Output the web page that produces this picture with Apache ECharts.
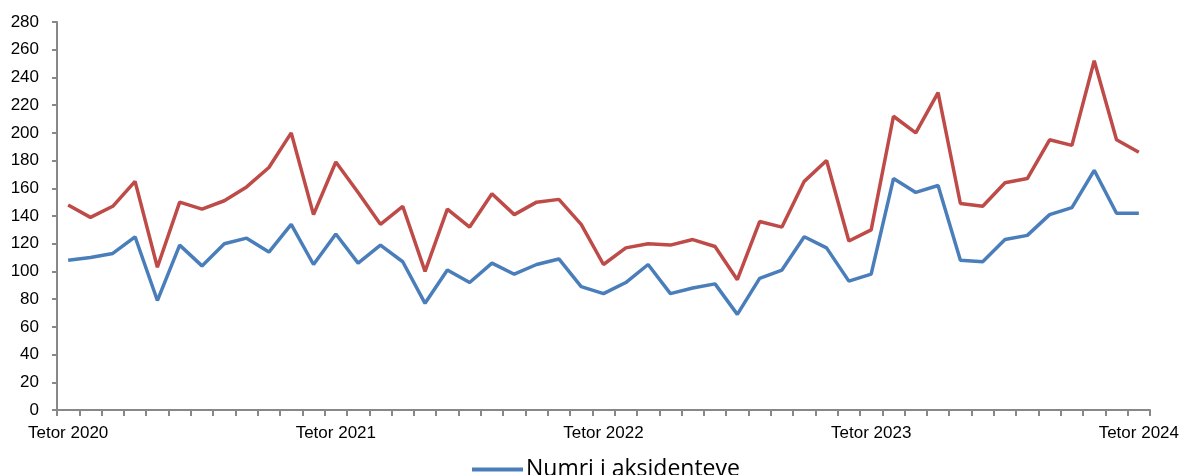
<!DOCTYPE html>
<html>
<head>
<meta charset="utf-8">
<script src="https://cdn.jsdelivr.net/npm/echarts@6/dist/echarts.min.js"></script>
<style>
  html, body { margin: 0; padding: 0; background: #fff; }
  #chart { width: 1182px; height: 475px; }
</style>
</head>
<body>
<div id="chart"></div>
<script>
// monthly data Tetor 2020 .. Tetor 2024
const months = ["Tetor", "Nëntor", "Dhjetor", "Janar", "Shkurt", "Mars", "Prill", "Maj", "Qershor", "Korrik", "Gusht", "Shtator"];
const categories = [];
for (let i = 0; i < 49; i++) {
  const m = months[i % 12];
  const y = 2020 + Math.floor((i + 9) / 12);
  categories.push(m + " " + y);
}

const accidents = [108, 110, 113, 125, 79, 119, 104, 120, 124, 114, 134, 105,
  127, 106, 119, 107, 77, 101, 92, 106, 98, 105, 109, 89,
  84, 92, 105, 84, 88, 91, 69, 95, 101, 125, 117, 93,
  98, 167, 157, 162, 108, 107, 123, 126, 141, 146, 173, 142,
  142];

const injured = [148, 139, 147, 165, 103, 150, 145, 151, 161, 175, 200, 141,
  179, 157, 134, 147, 100, 145, 132, 156, 141, 150, 152, 134,
  105, 117, 120, 119, 123, 118, 94, 136, 132, 165, 180, 122,
  130, 212, 200, 229, 149, 147, 164, 167, 195, 191, 252, 195,
  186];

const yTicks = [0, 20, 40, 60, 80, 100, 120, 140, 160, 180, 200, 220, 240, 260, 280];

const chart = echarts.init(document.getElementById("chart"));
const axisGray = "#888888";
chart.setOption({
  animation: false,
  grid: { left: 57, right: 32, top: 22, bottom: 65 },
  legend: {
    data: [{ name: "Numri i aksidenteve", icon: "rect" }],
    left: 467, top: 453,
    itemWidth: 51, itemHeight: 4, itemGap: 10,
    textStyle: { fontFamily: "Open Sans", fontSize: 23, color: "#000", padding: [0, 0, 0, -2] }
  },
  xAxis: {
    type: "category",
    data: categories,
    boundaryGap: true,
    axisLine: { lineStyle: { color: axisGray, width: 2 } },
    axisTick: { show: true, interval: 0, length: 6, lineStyle: { color: axisGray, width: 2 } },
    axisLabel: {
      interval: 11, margin: 15,
      fontFamily: "Liberation Sans", fontSize: 17, color: "#000",
      formatter: v => v.startsWith("Tetor") ? v : ""
    }
  },
  yAxis: {
    type: "value",
    min: yTicks[0], max: yTicks[yTicks.length - 1], interval: 20,
    splitLine: { show: false },
    axisLine: { show: true, lineStyle: { color: axisGray, width: 2 } },
    axisTick: { show: true, length: 5, lineStyle: { color: axisGray, width: 2 } },
    axisLabel: { margin: 18, fontFamily: "Liberation Sans", fontSize: 17, color: "#000" }
  },
  series: [
    {
      name: "Numri i aksidenteve",
      type: "line",
      data: accidents,
      symbol: "none",
      itemStyle: { color: "#4a7ebb" },
      lineStyle: { color: "#4a7ebb", width: 3.5 },
      z: 3
    },
    {
      name: "Numri i të lënduarve",
      type: "line",
      data: injured,
      symbol: "none",
      itemStyle: { color: "#be4b48" },
      lineStyle: { color: "#be4b48", width: 3.5 },
      z: 2
    }
  ]
});
</script>
</body>
</html>
